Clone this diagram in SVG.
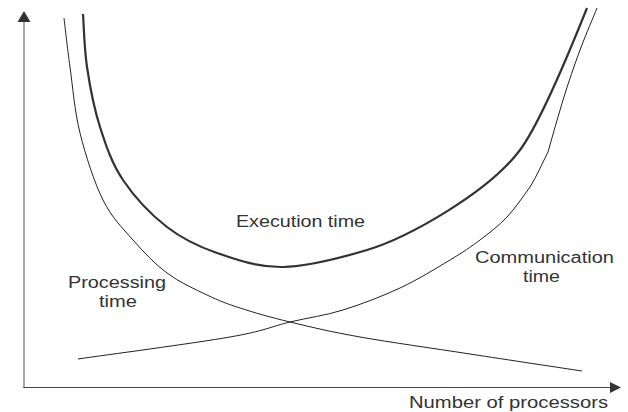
<svg xmlns="http://www.w3.org/2000/svg" width="628" height="412" viewBox="0 0 628 412">
<style>
.curve{fill:none;stroke:#222;stroke-width:1;stroke-linejoin:round}
.thick{stroke-width:2.2;stroke:#333}
.lbl{font-family:"Liberation Sans",Arial,sans-serif;font-size:16px;fill:#333}
</style>
<rect width="628" height="412" fill="#fff"/>
<g id="axes">
<line x1="24" y1="388" x2="24" y2="21" stroke="#888" stroke-width="1.5"/>
<polygon points="24,11 17.5,22 30.5,22" fill="#333"/>
<line x1="23.5" y1="387.5" x2="611" y2="387.5" stroke="#444" stroke-width="1.2"/>
<polygon points="621,387.5 610,382 610,393" fill="#333"/>
</g>
<g id="connectors">
<path id="execution" class="curve thick" d="M83,14 C83.7,22.8 84.2,48.2 87,67 C89.8,85.8 94,108.2 100,127 C106,145.8 111.8,163.3 123,180 C134.2,196.7 151.3,214.8 167,227 C182.7,239.2 197.7,246.3 217,253 C236.3,259.7 258,267.5 283,267 C308,266.5 344.2,256.8 367,250 C407,238 488,193 520,150 C542,120.5 577,33 587,8"/>
<path id="processing" class="curve" d="M64,18 C65,26.2 67.3,47.8 70,67 C72.7,86.2 74.5,110.8 80,133 C85.5,155.2 94.2,182.2 103,200 C111.8,217.8 122.3,227.8 133,240 C143.7,252.2 154.7,263.8 167,273 C179.3,282.2 194.8,289.2 207,295 C219.2,300.8 226.2,303.5 240,308 C253.8,312.5 270,317.2 290,322 C310,326.8 330,331.7 360,337 C390,342.3 433,348.3 470,354 C507,359.7 563.3,368.2 582,371"/>
<path id="communication" class="curve" d="M78,359 C103.3,355.3 194.7,343.2 230,337 C265.3,330.8 271.2,326.5 290,322 C308.8,317.5 324.7,315.7 343,310 C361.3,304.3 382.2,296.3 400,288 C417.8,279.7 436.7,268 450,260 C463.3,252 470.5,247.2 480,240 C489.5,232.8 498.7,225.8 507,217 C515.3,208.2 523.2,196.2 530,187 C536.8,176.2 542,163.7 548,152 C553,134.7 557.7,117 563,100 C568.3,83 574.3,65.3 580,50 C585.7,34.7 594.2,15 597,8"/>
</g>
<g id="label-execution"><text class="lbl" x="236" y="227" textLength="129" lengthAdjust="spacingAndGlyphs">Execution time</text></g>
<g id="label-processing">
<text class="lbl" x="68" y="288" textLength="98" lengthAdjust="spacingAndGlyphs">Processing</text>
<text class="lbl" x="99" y="307" textLength="38" lengthAdjust="spacingAndGlyphs">time</text>
</g>
<g id="label-communication">
<text class="lbl" x="475" y="263" textLength="139" lengthAdjust="spacingAndGlyphs">Communication</text>
<text class="lbl" x="523" y="282" textLength="37" lengthAdjust="spacingAndGlyphs">time</text>
</g>
<g id="label-x"><text class="lbl" x="409" y="408" textLength="199" lengthAdjust="spacingAndGlyphs">Number of processors</text></g>
</svg>
